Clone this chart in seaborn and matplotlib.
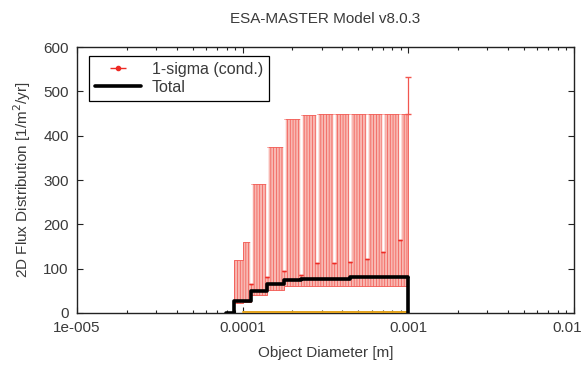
"""
ESA-MASTER v8.0.3 - 2D flux distribution vs object diameter.
"""
import matplotlib
matplotlib.use("Agg")
import matplotlib.pyplot as plt
import matplotlib.ticker as mticker
import matplotlib.transforms as mtransforms
import numpy as np
import pandas as pd
import seaborn as sns

# --- data ------------------------------------------------------------------
# bin edges of the red 1-sigma band [m]
sigma_edges = [7.9e-5, 8.9e-5, 1.0e-4, 1.12e-4, 1.41e-4, 1.78e-4, 2.24e-4,
               2.82e-4, 3.55e-4, 4.47e-4, 5.62e-4, 7.08e-4, 8.91e-4, 1.0e-3]
sigma_lo = [0, 22, 25, 41, 52, 61, 62, 62, 62, 62, 62, 62, 62]
sigma_hi = [3, 120, 160, 291, 375, 438, 447, 448, 448, 449, 449, 450, 450]

# narrow white gaps inside the band (left edge of bins) and their lower end
gap_x = [1.12e-4, 1.41e-4, 1.78e-4, 2.24e-4, 2.82e-4, 3.55e-4,
         4.47e-4, 5.62e-4, 7.08e-4, 8.91e-4]
gap_lo = [65, 82, 95, 85, 112, 113, 116, 122, 138, 165]
gap_hi = [291, 375, 438, 447, 448, 448, 449, 449, 450, 450]

# single error bar at the last diameter
last_x = [1.0e-3]
last_lo = [450]
last_hi = [532]

# total flux, step function
total_edges = [7.9e-5, 8.9e-5, 1.12e-4, 1.41e-4, 1.78e-4, 2.24e-4,
               4.47e-4, 1.0e-3]
total_vals = [1, 27, 50, 65, 74, 77, 81]

# small secondary component close to zero
minor_x = [1.0e-4, 1.0e-3]
minor_y = [1.5, 1.5]

x_ticks = [1e-5, 1e-4, 1e-3, 1e-2]
x_ticklabels = ["1e-005", "0.0001", "0.001", "0.01"]
y_ticks = [0, 100, 200, 300, 400, 500, 600]

RED = "#ee2a24"
HATCH = "#f2564f"
PINK = "#f8b8b2"
TEXT = "#3a3a3a"

sns.set_style("ticks")
plt.rcParams["font.family"] = ["Liberation Sans", "DejaVu Sans"]
plt.rcParams["hatch.color"] = HATCH
plt.rcParams["hatch.linewidth"] = 0.5

fig = plt.figure(figsize=(5.85, 3.65), dpi=100)
ax = fig.add_axes([0.1316, 0.1425, 0.8494, 0.7285])

# 1-sigma band: hatched with dense vertical red lines
ax.fill_between(sigma_edges, sigma_lo + [sigma_lo[-1]], sigma_hi + [sigma_hi[-1]],
                step="post", facecolor=PINK, edgecolor=HATCH, hatch="||||||",
                linewidth=0.6, zorder=2)
ax.vlines(gap_x, gap_lo, gap_hi, colors="white", linewidth=1.8, zorder=3)
ax.errorbar(gap_x, gap_lo, yerr=[[0] * len(gap_x), [0] * len(gap_x)], fmt="none",
            ecolor=RED, capsize=1.5, elinewidth=0.6, zorder=3)
ax.errorbar(last_x, last_lo,
            yerr=[[0], [last_hi[0] - last_lo[0]]],
            fmt="none", ecolor=HATCH, capsize=2.5, elinewidth=0.9, zorder=3)

# legend proxy for the 1-sigma series
ax.errorbar([], [], xerr=[[], []], fmt="o", color=RED, ecolor=RED,
            markersize=3, capsize=3, elinewidth=1, label="1-sigma (cond.)")

# minor component and total
minor_df = pd.DataFrame({"d": minor_x, "flux": minor_y})
sns.lineplot(data=minor_df, x="d", y="flux", color="#e3a21a", linewidth=1.4,
             ax=ax, zorder=4, legend=False)

total_df = pd.DataFrame({"d": total_edges,
                         "flux": total_vals + [total_vals[-1]]})
sns.lineplot(data=total_df, x="d", y="flux", color="black", linewidth=2.6,
             drawstyle="steps-post", estimator=None, sort=False, ax=ax,
             zorder=5, label="Total")
ax.vlines(total_edges[-1], 0, total_vals[-1], colors="black", linewidth=2.6,
          zorder=5)

ax.set_xscale("log")
ax.set_xlim(1e-5, 1e-2)
ax.set_ylim(0, 600)
ax.xaxis.set_major_locator(mticker.FixedLocator(x_ticks))
ax.xaxis.set_major_formatter(mticker.FixedFormatter(x_ticklabels))
ax.xaxis.set_minor_locator(mticker.LogLocator(base=10, subs=np.arange(2, 10)))
ax.xaxis.set_minor_formatter(mticker.NullFormatter())
ax.set_yticks(y_ticks)

ax.tick_params(which="both", direction="in", top=True, right=True,
               colors="#222222", labelcolor=TEXT, labelsize=11, pad=6)
ax.tick_params(which="major", length=4, width=0.8)
ax.tick_params(which="minor", length=2.5, width=0.8)
for sp in ax.spines.values():
    sp.set_color("#222222")
    sp.set_linewidth(1.0)

# keep the last x label inside the canvas
last_lbl = ax.get_xticklabels()[-1]
last_lbl.set_transform(last_lbl.get_transform() +
                       mtransforms.ScaledTranslation(-5 / 72, 0, fig.dpi_scale_trans))

ax.set_xlabel("Object Diameter [m]", fontsize=11, color=TEXT, labelpad=8)
ax.set_ylabel("2D Flux Distribution [1/m$^2$/yr]", fontsize=11, color=TEXT,
              labelpad=7)
ax.set_title("ESA-MASTER Model v8.0.3", fontsize=11, color=TEXT, pad=17)

handles, labels = ax.get_legend_handles_labels()
order = [labels.index("1-sigma (cond.)"), labels.index("Total")]
leg = ax.legend([handles[i] for i in order], [labels[i] for i in order],
                loc="upper left", bbox_to_anchor=(0.024, 0.966),
                borderaxespad=0, fancybox=False, framealpha=1,
                edgecolor="black", fontsize=11.5, handlelength=2.9,
                borderpad=0.35, labelspacing=0.2, handletextpad=0.7)
leg.get_frame().set_linewidth(0.9)
for t in leg.get_texts():
    t.set_color(TEXT)

fig.savefig("out.png", dpi=100)
plt.close(fig)
